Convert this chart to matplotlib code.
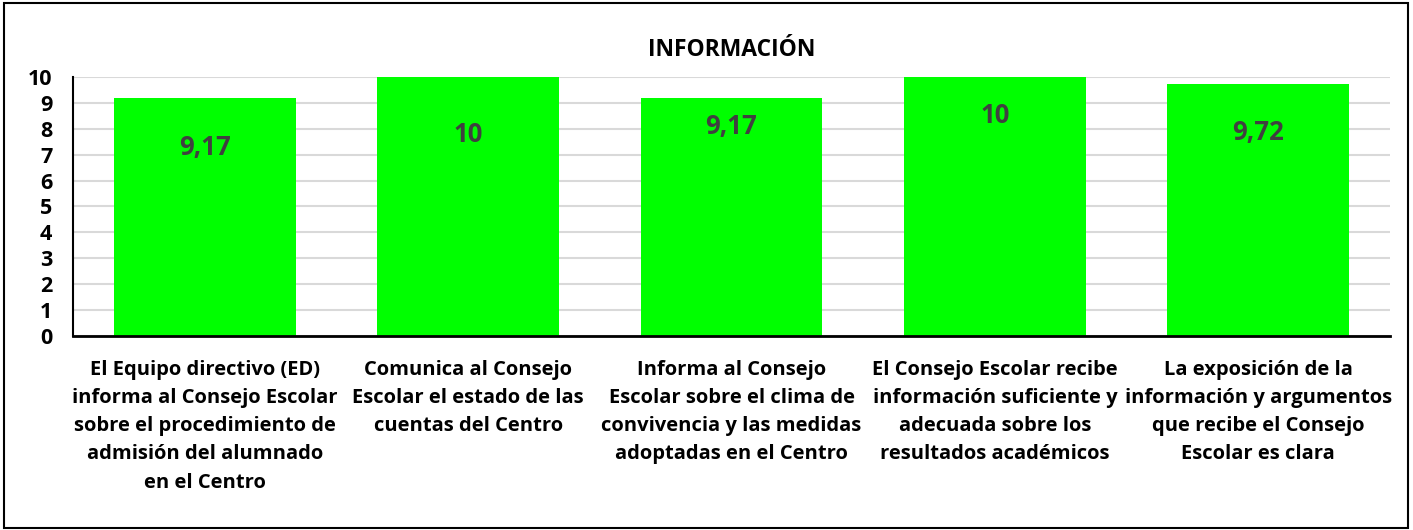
import numpy as np
import matplotlib.pyplot as plt
from matplotlib.patches import Rectangle

plt.rcParams['font.family'] = ['Open Sans', 'DejaVu Sans']

# data
categories = [
    'El Equipo directivo (ED)\ninforma al Consejo Escolar\nsobre el procedimiento de\nadmisión del alumnado\nen el Centro',
    'Comunica al Consejo\nEscolar el estado de las\ncuentas del Centro',
    'Informa al Consejo\nEscolar sobre el clima de\nconvivencia y las medidas\nadoptadas en el Centro',
    'El Consejo Escolar recibe\ninformación suficiente y\nadecuada sobre los\nresultados académicos',
    'La exposición de la\ninformación y argumentos\nque recibe el Consejo\nEscolar es clara',
]
values = [9.17, 10, 9.17, 10, 9.72]
value_labels = ['9,17', '10', '9,17', '10', '9,72']
label_y = [7.26, 7.76, 8.1, 8.5, 7.84]

fig = plt.figure(figsize=(14.13, 5.3), dpi=100)
ax = fig.add_axes([0.0517, 0.366, 0.932, 0.489])

x = np.arange(len(values))
ax.bar(x, values, width=0.69, color='#00ff00', zorder=2)
for xi, ly, t in zip(x, label_y, value_labels):
    ax.text(xi, ly, t, ha='center', va='center', fontsize=18.5, fontweight='bold', color='#404040', zorder=3)

ax.set_xlim(-0.5, len(values) - 0.5)
ax.set_ylim(0, 10)
ax.set_yticks(range(0, 11))
ax.set_yticklabels([str(i) for i in range(0, 11)], fontsize=15.5, fontweight='bold')
ax.yaxis.grid(True, color='#d9d9d9', lw=1.5, zorder=0)
ax.set_axisbelow(True)
ax.tick_params(axis='y', length=0, pad=15)
ax.tick_params(axis='x', length=0, pad=17)
ax.set_xticks(x)
ax.set_xticklabels(categories, fontsize=14.5, fontweight='bold', linespacing=1.55, va='top')
for s in ['top', 'right']:
    ax.spines[s].set_visible(False)
ax.spines['left'].set_linewidth(1.5)
ax.spines['bottom'].set_linewidth(2)

ax.text(0.518, 0.906, 'INFORMACIÓN', transform=fig.transFigure, ha='center', va='center',
        fontsize=16.5, fontweight='bold')

# outer frame
fig.patches.append(Rectangle((0.0025, 0.0035), 0.994, 0.9915, transform=fig.transFigure,
                             fill=False, edgecolor='black', lw=1.5))

fig.savefig('out.png', dpi=100)
